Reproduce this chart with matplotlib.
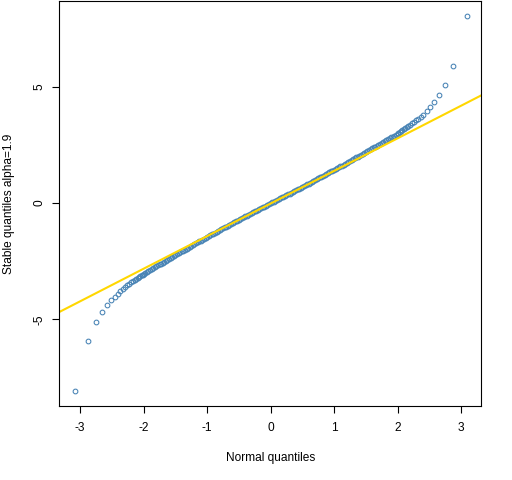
import numpy as np
import matplotlib
matplotlib.use("Agg")
import matplotlib.pyplot as plt

plt.rcParams['font.family'] = ['Liberation Sans', 'DejaVu Sans']
plt.rcParams['axes.unicode_minus'] = False

# normal quantiles (x) and stable quantiles alpha=1.9 (y)
lower_x = [-3.09, -2.878, -2.748, -2.652, -2.576, -2.512, -2.457, -2.409, -2.366, -2.326,
           -2.290, -2.257, -2.226, -2.197, -2.170, -2.144, -2.120, -2.097, -2.075, -2.054,
           -2.034, -2.014]
lower_y = [-8.09, -5.94, -5.11, -4.70, -4.40, -4.18, -4.03, -3.90, -3.80, -3.71,
           -3.62, -3.54, -3.47, -3.41, -3.35, -3.30, -3.25, -3.21, -3.17, -3.13,
           -3.10, -3.07]

mid_neg_x = [-2.000, -1.975, -1.950, -1.925, -1.900, -1.875, -1.850, -1.825, -1.800, -1.775,
             -1.750, -1.725, -1.700, -1.675, -1.650, -1.625, -1.600, -1.575, -1.550, -1.525,
             -1.500, -1.475, -1.450, -1.425, -1.400, -1.375, -1.350, -1.325, -1.300, -1.275,
             -1.250, -1.225, -1.200, -1.175, -1.150, -1.125, -1.100, -1.075, -1.050, -1.025,
             -1.000, -0.975, -0.950, -0.925, -0.900, -0.875, -0.850, -0.825, -0.800, -0.775,
             -0.750, -0.725, -0.700, -0.675, -0.650, -0.625, -0.600, -0.575, -0.550, -0.525,
             -0.500, -0.475, -0.450, -0.425, -0.400, -0.375, -0.350, -0.325, -0.300, -0.275,
             -0.250, -0.225, -0.200, -0.175, -0.150, -0.125, -0.100, -0.075, -0.050, -0.025]
mid_neg_y = [-3.05, -3.01, -2.97, -2.93, -2.89, -2.84, -2.80, -2.76, -2.72, -2.68,
             -2.64, -2.60, -2.56, -2.52, -2.48, -2.44, -2.40, -2.36, -2.32, -2.28,
             -2.24, -2.20, -2.16, -2.12, -2.08, -2.04, -2.00, -1.96, -1.92, -1.88,
             -1.84, -1.80, -1.77, -1.73, -1.69, -1.65, -1.61, -1.57, -1.54, -1.50,
             -1.46, -1.42, -1.39, -1.35, -1.31, -1.27, -1.24, -1.20, -1.16, -1.12,
             -1.08, -1.05, -1.01, -0.97, -0.93, -0.89, -0.86, -0.82, -0.78, -0.75,
             -0.71, -0.68, -0.64, -0.61, -0.57, -0.54, -0.50, -0.47, -0.43, -0.40,
             -0.36, -0.33, -0.29, -0.26, -0.22, -0.19, -0.15, -0.12, -0.08, -0.05]

mid_pos_x = [0.000, 0.025, 0.050, 0.075, 0.100, 0.125, 0.150, 0.175, 0.200, 0.225,
             0.250, 0.275, 0.300, 0.325, 0.350, 0.375, 0.400, 0.425, 0.450, 0.475,
             0.500, 0.525, 0.550, 0.575, 0.600, 0.625, 0.650, 0.675, 0.700, 0.725,
             0.750, 0.775, 0.800, 0.825, 0.850, 0.875, 0.900, 0.925, 0.950, 0.975,
             1.000, 1.025, 1.050, 1.075, 1.100, 1.125, 1.150, 1.175, 1.200, 1.225,
             1.250, 1.275, 1.300, 1.325, 1.350, 1.375, 1.400, 1.425, 1.450, 1.475,
             1.500, 1.525, 1.550, 1.575, 1.600, 1.625, 1.650, 1.675, 1.700, 1.725,
             1.750, 1.775, 1.800, 1.825, 1.850, 1.875, 1.900, 1.925, 1.950, 1.975,
             2.000]
mid_pos_y = [-0.01, 0.03, 0.06, 0.10, 0.13, 0.17, 0.20, 0.24, 0.27, 0.31,
             0.34, 0.38, 0.41, 0.45, 0.48, 0.52, 0.55, 0.59, 0.62, 0.66,
             0.69, 0.73, 0.77, 0.80, 0.84, 0.88, 0.92, 0.95, 0.99, 1.03,
             1.06, 1.10, 1.14, 1.18, 1.21, 1.25, 1.28, 1.32, 1.36, 1.39,
             1.43, 1.47, 1.50, 1.54, 1.58, 1.61, 1.65, 1.69, 1.73, 1.77,
             1.80, 1.84, 1.88, 1.92, 1.96, 2.00, 2.04, 2.08, 2.12, 2.15,
             2.19, 2.23, 2.27, 2.31, 2.35, 2.39, 2.43, 2.47, 2.51, 2.55,
             2.59, 2.63, 2.66, 2.70, 2.74, 2.78, 2.82, 2.86, 2.90, 2.94,
             2.98]

upper_x = [2.014, 2.034, 2.054, 2.075, 2.097, 2.120, 2.144, 2.170, 2.197, 2.226,
           2.257, 2.290, 2.326, 2.366, 2.409, 2.457, 2.512, 2.576, 2.652, 2.748,
           2.878, 3.09]
upper_y = [3.01, 3.05, 3.09, 3.12, 3.17, 3.22, 3.27, 3.32, 3.37, 3.42,
           3.48, 3.55, 3.63, 3.71, 3.80, 3.94, 4.11, 4.33, 4.63, 5.06,
           5.87, 8.02]

# reference line (qqline)
line_intercept = -0.02
line_slope = 1.40

x = lower_x + mid_neg_x + mid_pos_x + upper_x
y = lower_y + mid_neg_y + mid_pos_y + upper_y

fig = plt.figure(figsize=(5.12, 4.8), dpi=100)
ax = fig.add_axes([0.1158, 0.1542, 0.8242, 0.8431])

ax.plot(x, y, linestyle='none', marker='o', markersize=3.4,
        markerfacecolor='none', markeredgecolor='#4682B4', markeredgewidth=0.75)
ax.axline((0, line_intercept), slope=line_slope, color='#FFD700', linewidth=1.5)

ax.set_xlim(-3.33, 3.32)
ax.set_ylim(-8.72, 8.67)
ax.set_xticks([-3, -2, -1, 0, 1, 2, 3])
ax.set_yticks([-5, 0, 5])

for s in ax.spines.values():
    s.set_linewidth(0.8)
    s.set_color('black')

ax.tick_params(axis='both', direction='out', length=5, width=0.8, labelsize=8.6)
ax.tick_params(axis='x', pad=6.3)
ax.tick_params(axis='y', pad=5.0)
for lab in ax.get_yticklabels():
    lab.set_rotation(90)
    lab.set_va('center')

ax.set_xlabel('Normal quantiles', fontsize=8.6)
ax.xaxis.label.set_va('center')
ax.xaxis.set_label_coords(0.5, -0.1285)
ax.set_ylabel('Stable quantiles alpha=1.9', fontsize=8.6)
ax.yaxis.label.set_va('center')
ax.yaxis.set_label_coords(-0.119, 0.5)

fig.savefig('out.png', dpi=100)
